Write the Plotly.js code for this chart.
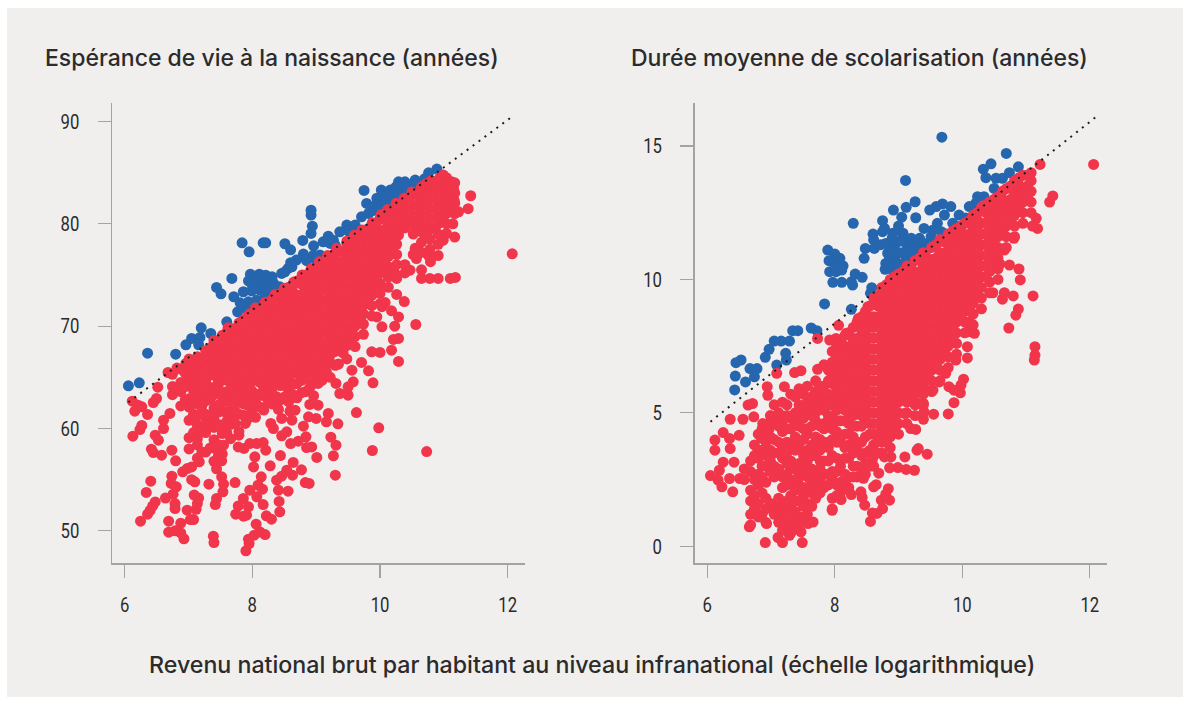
<!DOCTYPE html>
<html>
<head>
<meta charset="utf-8">
<script src="https://cdn.plot.ly/plotly-3.0.1.min.js"></script>
<style>html,body{margin:0;padding:0;background:#fff}</style>
</head>
<body>
<div id="chart" style="width:1190px;height:704px"></div>
<script>
const titleLeft = "Espérance de vie à la naissance (années)";
const titleRight = "Durée moyenne de scolarisation (années)";
const titleBottom = "Revenu national brut par habitant au niveau infranational (échelle logarithmique)";
const xTicks = [6, 8, 10, 12];
const leftYTicks = [50, 60, 70, 80, 90];
const rightYTicks = [0, 5, 10, 15];
const leftTrendX = [6.06, 12.08];
const leftTrendY = [62.57, 90.53];
const rightTrendX = [6.05, 12.12];
const rightTrendY = [4.67, 16.13];

const leftBlue = [[9.75,83.26],[10.89,85.34],[10.76,84.98],[8.92,81.33],[8.92,80.85],[8.94,79.77],[8.92,79.06],[7.84,78.14],[7.95,77.26],[8.17,78.14],[8.21,78.14],[8.51,78.05],[8.6,77.46],[8.79,78.37],[8.96,77.85],[7.68,74.66],[7.44,73.78],[7.51,73.16],[7.71,72.87],[7.6,70.42],[7.2,69.84],[7.35,69.28],[7.05,68.8],[7.18,68.9],[6.36,67.36],[6.8,67.26],[6.96,68.18],[7.16,68.18],[6.06,64.17],[6.23,64.46],
[7.97,75.08],[8.11,75.08],[8.21,74.98],[8.31,74.82],[7.94,74.43],[8.07,74.33],[8.2,74.23],[8.33,74.23],[8.46,75.15],[8.56,75.64],[8.51,75.31],[7.86,73.36],[7.99,73.45],[8.12,73.52],[8.25,73.45],[8.38,73.52],[7.81,72.28],[7.94,72.38],[8.07,72.54],[8.2,72.87],[7.77,71.4],[7.91,71.73],[8.62,75.8],[8.43,73.84],
[8.69,76.45],[8.81,76.78],[8.96,76.94],[8.8,77.04],[9.06,76.94],[9.11,78.24],[9.19,78.79],[9.22,78.08],[9.27,78.4],[9.37,79.22],[9.48,79.87],[9.61,79.87],[9.71,80.68],[9.82,81.01],[9.79,81.99],[9.95,81.99],[10.02,83.29],[10.16,83.29],[10.05,82.64],[10.21,82.31],[10.29,84.1],[10.39,84.1],[10.55,84.27],[10.42,83.62],[10.31,82.96],[10.16,81.66],[10,81.34],
[8.85,76.4],[9,76.5],[9.3,77.9],[9.5,79.3],[9.9,81.3],[10.1,82],[10.25,82.9],[10.4,83.3],[10.55,83.8],[10.7,84.4],[9.95,82.5],[10.1,82.8],[10.25,83.6],[8.6,76.2],[8.3,74.6],[8.1,73.9],[8,74],[8.3,73.8]];

const leftRed = [[7.62,69.84],[7.84,70.5],[7.96,71.2],[8.05,71.8],[8.2,72.3],[8.36,73.1],[8.5,73.7],[8.65,74.3],[8.78,75],[8.92,75.6],[9.05,76.3],[9.18,76.9],[9.32,77.6],[9.48,78.3],[9.6,78.9],[9.72,79.4],[9.88,80.1],[10.02,80.9],[10.12,81.4],[10.25,82],[10.38,82.5],[10.5,83.1],[10.65,83.6],[10.8,84.2],[10.95,84.6],[10.99,84.76],
[11.42,82.74],[11.38,81.47],[12.07,77.07],[11.12,84.1],[11.15,83.45],[11.16,82.3],[11.23,81.17],[11.14,80],[11.17,78.7],[10.99,78.4],[11.04,79.05],
[10.29,78.9],[10.55,77.6],[10.6,77.4],[10.57,76.6],[10.76,76.9],[10.91,76.9],[10.79,76.3],[10.65,75.5],[10.65,74.66],[10.78,74.66],[10.91,74.66],[11.1,74.66],[11.18,74.76],[10.47,75.47],[10.26,74.66],[10.21,75.5],[9.97,73.68],[9.79,73.36],[10.26,73.1],[10.38,72.4],[10.08,72.3],[10.03,71.9],[10.18,71.5],[10.29,70.9],[10.23,70],[10.56,70.16],[10.29,68.8],[10.21,68.7],[9.74,72.05],[10.03,69.93],[9.95,70.9],
[7.9,48.05],[7.95,48.76],[7.94,49.19],[8.03,49.58],[8.12,49.9],[8.2,49.64],[8.06,50.65],[7.4,48.86],[7.39,49.48],[6.93,49.22],[6.88,49.8],[6.88,50.75],[6.79,50],[6.69,49.87],[6.69,50.94],[7.08,51.1],[7.03,51.1],[6.25,50.94],[6.36,51.63],[6.4,52],[6.44,52.44],[6.48,52.83],[6.34,53.75],[6.41,54.85],[6.64,53.2],[6.79,52.67],[6.79,52.18],[6.98,52.02],[7.12,52.1],[7.14,52.67],[7.16,53.2],[7.09,53.5],[7.42,52.57],[7.44,53.16],[7.54,53.81],[7.55,54.56],[7.52,55.28],[7.32,54.56],[7.1,54.79],[7.05,55],[7.73,54.72],[7.44,56.06],[7.52,56.84],[6.74,55.34],[6.73,54.63],[6.81,54.3],[6.76,53.58],[6.91,55.77],[6.98,56.09],[7.05,56.25],[6.8,56.84],[7.17,56.74],[8.02,56.25],[8.28,56.35],[8.44,57.36],[8.64,56.68],[8.77,55.96],[8.63,55.44],[8.54,55.93],[8.46,55.34],[8.38,54.95],[8.14,55.28],[8.09,54.46],[8.16,54.07],[7.96,53.97],[8.41,53.97],[8.56,53.88],[8.83,54.72],[8.89,54.63],[8.42,52.87],[8.43,51.86],[7.86,53.16],[7.78,52.44],[7.94,52.35],[8.07,53.32],[8.17,52.57],[7.74,51.63],[7.86,51.43],[7.91,51.53],[8.22,51.47],[8.3,51.14],[9.3,55.44],[9.01,57.17],[9.27,57.33],[9.31,58.37],[9.23,59.15],[9.88,57.85],[10.73,57.75],[9.98,60.07],[9.34,60.46],[9.63,61.56],[8.93,58.2],[8.85,58.14],[8.84,59.19],[8.72,58.76],[8.6,58.53],[8.46,59.28],[8.04,57.23],[8.21,57.88],[8.17,58.63],[8.07,58.53],[7.96,58.53],[7.87,58.05],[7.78,58.2],[7.79,59.35],[7.89,60.49],[7.55,58.37],[7.47,57.39],[6.13,59.25],[6.24,59.9],[6.27,60.3],[6.36,61.37],[6.16,61.69],[6.27,62.12],[6.12,62.67],[6.21,62.28],[6.45,62.54],[6.5,62.93],[6.52,64.04],[6.48,59.35],[6.53,58.86],[6.42,57.98],[6.45,57.65],[6.58,57.39],[6.71,61.47],[6.61,60.81],[6.61,60],[6.74,57.88],[6.96,66.35],[6.68,65.47],[9.16,60.65],[9.03,62.28],[8.9,62.35],[9.19,61.47],[9,60.98],[8.88,61.14],[8.8,60.23],[8.67,61.79],[8.59,61.69],[8.41,61.86],[8.46,60.98],[8.62,60.81],[8.54,59.67],[8.29,60.49],[8.33,60],[9.31,64.4],[9.37,63.42],[9.5,63.26],[9.58,64.56],[9.5,64.07],[9.89,64.46],[9.82,65.64],[10.29,66.55],[10,67.43],[9.87,67.49],[10.18,67.65],[9.71,66.45],[9.56,65.7],[9.31,66.19]];

const leftDense = [
[6.75,[63.3,64.1,65.3]],
[6.88,[62.2,63.6,64.5,65.8]],
[7.01,[58,59.1,60.8,62.1,62.9,64.2,65,66.1,66.8]],
[7.14,[57.1,58.4,59,60.3,61.2,62.4,63,64.4,65.1,66.3,67]],
[7.27,[57.7,59.6,60.6,61.4,62.7,63.4,64.6,65.8,66.6,67.6]],
[7.4,[56.8,58.1,58.9,60.1,60.9,62,63.3,64,65.2,66,67,68,68.6]],
[7.53,[57.5,59.5,60.3,61.7,62.6,63.2,64.7,65.4,66.5,67.3,68.3,69.1]],
[7.66,[59,60.4,61.1,62.3,63.7,64.4,65.2,66.6,67.4,68.3,69.1,69.8]],
[7.79,[59.7,61.4,62.9,63.5,64.8,65.6,66.4,67.6,68.5,69.4,70.3]],
[7.92,[60.9,62.3,63.1,64.4,65.3,66.1,67.2,68.1,69.1,70,70.9]],
[8.05,[61.1,62.6,63.3,64.9,65.7,66.6,67.5,68.4,69.3,70.3,71.4]],
[8.18,[61.8,63.2,64,65,66.2,67,67.9,68.8,69.8,70.8,71.8]],
[8.31,[62.4,63.9,64.6,65.7,66.5,67.4,68.4,69.4,70.4,71.4,72.6]],
[8.44,[62.8,64.2,65.3,66.2,67,67.9,68.8,69.8,70.8,71.8,72.3,73.2]],
[8.57,[62.6,63.5,64.9,65.8,66.8,67.6,68.6,69.6,70.6,71.6,72.6,73.8]],
[8.7,[63,64.4,65.4,66.1,67.2,68,69,70,71,72,73,74.4]],
[8.83,[63.6,64.9,66,67,67.8,68.6,69.5,70.5,71.5,72.5,73.5,74.5,75]],
[8.96,[63.2,64.4,65.2,66.6,67.4,68.2,69.2,70.2,71.2,72.2,73.2,74.2,75.6]],
[9.09,[64.7,65.9,66.8,67.7,68.5,69.5,70.5,71.5,72.5,73.5,74.5,75.5,76.2]],
[9.22,[65,66.4,67.2,68,69,70,71,72,73,74,75,76,76.8]],
[9.35,[66.3,67.6,68.3,69.3,70.3,71.3,72.3,73.3,74.3,75.3,76.3,77.4]],
[9.48,[66.8,68.1,68.8,69.8,70.8,71.8,72.8,73.8,74.8,75.8,76.8,78]],
[9.61,[68,69,70,71,72,73,74,75,76,77,78,78.6]],
[9.74,[69.2,70.2,71.2,72.2,73.2,74.2,75.2,76.2,77.2,78.2,79.3]],
[9.87,[71,72,73,74,75,76,77,78,79,79.9]],
[10,[72.2,73.2,74.2,75.2,76.2,77.2,78.2,79.2,80.5]],
[10.13,[73.8,74.8,75.8,76.8,77.8,78.8,79.8,80.2,81.1]],
[10.26,[75,76,77,78,79.6,80.6,81.7]],
[10.39,[75.2,76,79.6,80.5,81.4,82.3]],
[10.52,[77,79,79.9,80.8,81.8,82.9]],
[10.65,[77.2,78.2,79.2,80.2,81.2,82.2,83.5]],
[10.78,[77.5,78.5,79.5,80.5,81.5,82.5,83.5,84]],
[10.91,[78,79,80,81,82,83,84,84.3]],
[11.04,[80,81,82,83,84,84.5]],
[11.17,[81,82,83,84]]];

const leftDenseExtra = [
[6.82,[63.9,65.9]],
[6.95,[62.8,64.1,65.4]],
[7.08,[59.6,61.4,62.5,63.7,64.7,65.7]],
[7.21,[57.7,59.7,61.6,62.2,63.6,64.5,65.5,66.7]],
[7.34,[58.1,60.3,61.2,62.9,64,65.4,66.1,67.1,67.9]],
[7.47,[58.4,60.4,61.6,62.3,63.9,64.6,65.9,66.9,67.8,68.6]],
[7.6,[59.6,60.7,61.5,62.9,63.6,64.8,65.8,66.9,67.8,68.6,69.4]],
[7.73,[60.5,61.7,62.4,63.1,64.1,65.6,66.2,67.1,68,68.7,69.7]],
[7.86,[61.3,62.4,63.9,64.4,65.5,66.5,67.3,68.2,69.1,70.2]],
[7.99,[61.8,62.5,63.7,64.6,65.2,66,66.8,67.5,68.5,69.5,70.6]],
[8.12,[62.1,63.4,64.5,65.5,66.5,67.1,68.1,69.1,70.1,71.1]],
[8.25,[62.7,63.5,64.4,65.3,66,66.8,67.5,68.5,69.5,70.5,71.5,72.2]],
[8.38,[63.1,64.6,65.4,66,67,68,69,70,71,72]],
[8.51,[63.1,64.2,65,65.6,66.2,67.2,68.2,69.2,70.2,71.2,72.2,73.1]],
[8.64,[63.3,64.3,65.4,66.3,67.3,68.3,69.3,70.3,71.3,72.3,73.3,74]],
[8.77,[63.5,64.7,65.6,66.4,67.1,68.1,69.1,70.1,71.1,72.1,73.1,74.1]],
[8.9,[64,65.1,66,67,68,69,70,71,72,73,74,75]],
[9.03,[64.4,65.5,66.4,67,68,69,70,71,72,73,74,75,75.8]],
[9.16,[65.5,66.5,67.5,68.5,69.5,70.5,71.5,72.5,73.5,74.5,75.5,76.5]],
[9.29,[66.2,67.5,68.5,69.5,70.5,71.5,72.5,73.5,74.5,75.5,76.5,77.1]],
[9.42,[67.4,68.4,69.4,70.4,71.4,72.4,73.4,74.4,75.4,76.4,77.3]],
[9.55,[68.4,69.4,70.4,71.4,72.4,73.4,74.4,75.4,76.4,77.4,78.2]],
[9.68,[70.6,71.6,72.6,73.6,74.6,75.6,76.6,77.6,78.6]],
[9.81,[72.5,73.5,74.5,75.5,76.5,77.5,78.5,79.5]],
[9.94,[73.8,74.8,75.8,76.8,77.8,78.8,79.8]],
[10.07,[75.4,76.4,77.4,78.4,79.4,80.4]],
[10.2,[77.4,78.4,79.4,80.4,81.3]],
[10.33,[80.1,81,81.9]],
[10.46,[80.2,81.2,82.2]],
[10.59,[79.8,80.8,81.8,82.8]],
[10.72,[79,80,81,82,83,83.9]],
[10.85,[79.5,80.5,81.5,82.5,83.5]],
[10.98,[80.6,81.6,82.6,83.6]],
[11.1,[81.5,82.5,83.5]]];

const rightBlue = [[9.68,15.33],[10.69,14.72],[9.11,13.71],[10.45,14.33],[10.33,14.13],[10.37,13.81],[10.88,14.22],[10.74,14],[10.53,13.79],[10.63,13.79],[10.5,13.41],[10.24,13.1],[10.34,13.1],[10.21,12.85],[10.11,12.73],[9.26,12.91],[9.82,12.73],[9.69,12.83],[9.59,12.73],[9.49,12.6],[9.12,12.7],[8.92,12.6],[9.05,12.33],[9.27,12.31],[9.72,12.41],[9.95,12.41],[9.61,12.1],[9.85,12.1],[9.4,11.91],[8.75,12.2],[8.78,11.91],[9,12],[8.29,12.1],[8.6,11.7],[8.75,11.79],[8.91,11.73],[9.07,11.73],[9.2,11.54],[9.33,11.54],[9.51,11.6],[9.67,11.79],[8.61,11.48],[8.62,11.16],[8.48,11.16],[8.46,10.79],[7.89,11.1],[7.91,10.7],[8.08,10.79],[8.13,10.51],[7.92,10.29],[8.02,10.29],[8.11,10.35],[7.97,9.89],[8.11,9.89],[8.26,9.91],[8.28,9.79],[8.32,10.2],[8.43,10.08],[8.58,9.69],[8.56,9.48],[7.84,9.08],[8.26,8.88],[7.63,8.18],[7.72,8.08],[7.34,8.08],[7.42,8.08],[7.05,7.69],[7.16,7.69],[7.29,7.69],
[8.8,11.35],[8.96,11.35],[9.12,11.35],[9.27,11.35],[9.4,11.35],[8.83,10.98],[8.99,10.98],[9.14,11.04],[9.3,11.1],[8.8,10.6],[8.96,10.66],[8.79,10.38],[8.91,10.35],[9.12,10.73],[9.54,11.85],
[9.5,11.2],[9.6,11.4],[9.75,11.7],[9.9,12],[10.05,12.3],[9.2,11],[9.05,11],[8.9,11.1],[9.05,11.5],[8.9,11.55],[9.2,11.3],[8.72,11.3],[8.86,10.75],[9,10.55],[8,10.6],[8,10.95],
[6.45,6.88],[6.53,6.98],[6.67,6.66],[6.78,6.66],[6.74,6.35],[6.44,6.38],[6.6,6.16],[6.43,5.86],[6.91,7.08],[6.97,7.38],[7.09,6.79],[7.24,6.98],[7.23,7.23]];

const rightRed = [[12.06,14.31],[11.22,14.31],[11.42,13.13],[11.37,12.9],[11.18,11.91],[11.1,12],[11.16,12.29],[11.11,9.38],[10.8,9.38],[10.63,9.26],[10.66,9.5],[10.88,8.89],[10.84,8.66],[10.73,8.18],[10.91,9.98],[10.89,10.39],[10.74,10.54],[10.59,10.58],[10.66,11.1],[10.81,11.54],[10.48,9.5],[10.11,8.41],[10.1,8.04],[10.11,8.1],[10.19,7.98],[8.06,8.28],[8.18,7.98],[8.37,8.54],[8.52,8.98],[8.61,8.48],[7.73,7.79],[8.02,7.79],[7.92,7.73],[8.44,7.88],
[11.14,7.48],[11.14,7.16],[11.13,6.98],[7.09,6.48],[7.37,6.51],[7.47,6.58],[7.73,6.63],[6.94,5.98],[6.95,5.66],[7.21,5.98],[6.64,5.29],[6.71,5.35],[6.36,4.76],[6.56,4.76],[6.73,4.85],[6.25,4.26],[6.12,3.98],[6.12,3.6],[6.36,3.66],[6.35,4.04],[6.5,4.16],[6.25,3.15],[6.42,3.15],[6.05,2.65],[6.19,2.85],[6.23,2.23],[6.17,2.48],[6.35,2.54],[6.51,2.54],[6.4,2.04],[6.66,0.73],[6.91,0.14],[7.18,0.14],[7.49,0.14],[7.11,0.33],[6.93,0.85],[7.29,0.41],[7.47,0.54],[7.66,0.91],[7.58,0.85],[7.96,1.35],[8.56,0.93],[8.59,1.25],[8.66,1.23],[8.75,1.41],[8.73,1.73],[8.86,1.73],[8.84,2.16],[8.8,1.95],[8.47,1.54],[8.41,2.04],[8.43,1.83],[8.26,1.94],[8.18,2.16],[8.1,1.75],[8.65,2.31],[8.61,2.23],[8.69,2.74],[8.45,2.55],[9.25,2.85],[9.12,2.88],[8.99,2.95],[8.86,2.94],[9.45,3.45],[9.29,3.6],[9.31,3.66],[9.1,3.35],[8.88,3.35],[8.78,3.35],[8.59,3.25],[9.19,4.41],[9.27,4.38],[9.39,4.76],[9.4,5.04],[9.55,4.95],[9.78,4.96],[9.87,5.38],[9.39,5.35],[9.97,5.75],[9.79,5.98],[9.87,5.85],[10.02,6.26],[9.98,6.04],[10.08,7.06],[9.9,6.98],[10.08,7.48],[8.83,4.1],[8.91,4.29],[8.73,4.48],[8.86,4.6],[9.09,4.98],[9.33,5.35],[9.54,5.85],[9.43,5.85],[9.74,6.48],[9.64,6.16],[6.87,4.6],[6.97,4.4],[7,4.7],[6.85,4.05]];

const rightDense = [
[6.58,[2.5,2.9]],
[6.68,[0.8,1.2,1.7,2.1,2.8,3.2]],
[6.8,[1.1,1.6,2.3,2.7,3.3,3.6,4.2]],
[6.92,[0.9,1.4,1.8,2.4,3,3.4,3.9,4.3]],
[7.05,[1.2,1.5,2.6,3,3.5,4,4.7,5.3]],
[7.18,[0.6,1.1,1.5,2.2,2.6,3.3,3.7,4.3,4.7,5.4]],
[7.31,[0.5,1,1.4,1.9,2.4,2.9,3.2,3.8,4.4,4.8,5.7]],
[7.44,[0.8,1.1,1.7,2.3,2.6,3.1,3.7,3.9,4.5,4.9,5.3,5.9]],
[7.57,[1.2,1.6,2.2,2.6,3.2,3.6,4.2,4.4,5,5.4,6]],
[7.7,[1.8,2.3,2.7,3.4,3.7,4.1,4.7,5,5.5,5.8,6.2]],
[7.83,[2.2,2.7,3.2,3.9,4.4,4.6,5.1,5.6,6,6.8]],
[7.96,[1.4,1.8,2.5,2.8,3.4,4,4.4,4.8,5.3,5.6,6.1,6.4,6.9,7.3]],
[8.09,[2,2.4,3,3.2,3.9,4.1,4.7,5.2,5.6,6,6.4,6.8,7.2,7.7]],
[8.22,[2.2,2.6,3.3,3.8,4.2,4.6,5,5.4,5.8,6.2,6.6,7,7.4,8]],
[8.35,[2.6,3,3.6,3.9,4.5,5,5.4,5.8,6.2,6.6,7,7.4,7.8,8.4]],
[8.48,[2.7,3.1,3.5,4.1,4.7,5.1,5.5,5.9,6.3,6.7,7.1,7.5,7.9,8.3,8.8]],
[8.61,[3,3.4,3.8,4.2,4.6,5,5.4,5.8,6.2,6.6,7,7.4,7.8,8.2,8.6,9.3]],
[8.74,[3.5,3.9,4.3,4.7,5.1,5.5,5.9,6.3,6.7,7.1,7.5,7.9,8.3,8.7,9.1,9.7]],
[8.87,[3.7,4.1,4.5,4.9,5.3,5.7,6.1,6.5,6.9,7.3,7.7,8.1,8.5,8.9,9.3,9.7,10]],
[9,[4.2,4.6,5,5.4,5.8,6.2,6.6,7,7.4,7.8,8.2,8.6,9,9.4,9.8,10.2]],
[9.13,[4.6,5,5.4,5.8,6.2,6.6,7,7.4,7.8,8.2,8.6,9,9.4,9.8,10.2,10.5]],
[9.26,[4.9,5.3,5.7,6.1,6.5,6.9,7.3,7.7,8.1,8.5,8.9,9.3,9.7,10.1,10.7]],
[9.39,[5.3,5.7,6.1,6.5,6.9,7.3,7.7,8.1,8.5,8.9,9.3,9.7,10.1,10.5,11]],
[9.52,[5.8,6.2,6.6,7,7.4,7.8,8.2,8.6,9,9.4,9.8,10.2,10.6,11.2]],
[9.65,[6.2,6.6,7,7.4,7.8,8.2,8.6,9,9.4,9.8,10.2,10.6,11,11.5]],
[9.78,[6.7,7.1,7.5,7.9,8.3,8.7,9.1,9.5,9.9,10.3,10.7,11.1,11.7]],
[9.91,[7.2,7.6,8,8.4,8.8,9.2,9.6,10,10.4,10.8,11.2,11.5,11.9]],
[10.04,[8,8.4,8.8,9.2,9.6,10,10.4,10.8,11.2,11.6,12.1]],
[10.17,[8.3,8.7,9.1,9.5,9.9,10.3,10.7,11.1,11.5,11.9,12.4]],
[10.3,[8.9,9.3,9.7,10.1,10.5,10.9,11.3,11.7,12.1,12.7]],
[10.43,[9.5,9.9,10.3,10.7,11.1,11.5,11.9,12.3,12.9]],
[10.56,[10,10.4,10.8,11.2,11.6,12,12.4,12.8,13.1]],
[10.69,[11.2,11.6,12,12.4,12.8,13.4]],
[10.82,[11.6,12,12.4,12.8,13.2,13.7]],
[10.95,[12.1,12.5,12.9,13.3,13.9]],
[11.08,[12.5,12.9,13.3,13.7,14]]];

const rightDenseExtra = [
[6.74,[1.4,1.9,2.5,3.4,3.8]],
[6.86,[1.2,2,2.6,3,3.6,4.4]],
[6.99,[1.6,2.8,3.2,3.6,4.1,4.9]],
[7.12,[0.9,1.3,1.8,2.9,3.5,3.9,4.5,5]],
[7.25,[0.8,1.2,1.7,2.3,2.7,3.1,3.5,3.9,4.4,4.9,5.3]],
[7.38,[0.7,1.3,1.7,2.1,2.5,2.9,3.6,4.1,4.6,5,5.6]],
[7.51,[1.1,1.5,1.9,2.2,2.8,3.1,3.4,4,4.4,4.8,5.2,5.7]],
[7.64,[1.5,2,2.5,2.9,3.4,3.8,4.5,4.9,5.3,5.6]],
[7.77,[2,2.5,2.9,3.2,3.6,4,4.5,5.2,5.5,5.9,6]],
[7.9,[2.3,2.7,3.2,3.7,3.9,4.5,4.9,5.3,5.7,6.2,6.6]],
[8.03,[1.9,2.3,2.8,3.3,3.9,4.3,4.7,5.1,5.5,5.9,6.3,6.7,7.1,7.5]],
[8.16,[2.4,2.7,3.3,3.7,4.2,4.7,5.1,5.5,5.9,6.3,6.7,7.1,7.5,7.9]],
[8.29,[2.6,3,3.5,4.1,4.5,4.9,5.3,5.7,6.1,6.5,6.9,7.3,7.7,8.2]],
[8.42,[2.9,3.4,3.9,4.5,4.9,5.3,5.7,6.1,6.5,6.9,7.3,7.7,8.1,8.6]],
[8.55,[3,3.6,4.2,4.6,5,5.4,5.8,6.2,6.6,7,7.4,7.8,8.2,8.6,9]],
[8.68,[3.5,4,4.2,4.6,5,5.4,5.8,6.2,6.6,7,7.4,7.8,8.2,8.6,9,9.4]],
[8.81,[3.9,4.4,5,5.4,5.8,6.2,6.6,7,7.4,7.8,8.2,8.6,9,9.4,9.8]],
[8.94,[4.4,4.8,5.1,5.5,5.9,6.3,6.7,7.1,7.5,7.9,8.3,8.7,9.1,9.5,9.9,10.1]],
[9.07,[5.5,5.9,6.3,6.7,7.1,7.5,7.9,8.3,8.7,9.1,9.5,9.9,10.3]],
[9.2,[5.6,6,6.4,6.8,7.2,7.6,8,8.4,8.8,9.2,9.6,10,10.4]],
[9.33,[5.9,6.3,6.7,7.1,7.5,7.9,8.3,8.7,9.1,9.5,9.9,10.3,10.8]],
[9.46,[6.4,6.8,7.2,7.6,8,8.4,8.8,9.2,9.6,10,10.4,10.8]],
[9.59,[6.8,7.2,7.6,8,8.4,8.8,9.2,9.6,10,10.4,10.8,11.3]],
[9.72,[7.3,7.7,8.1,8.5,8.9,9.3,9.7,10.1,10.5,10.9,11.4]],
[9.85,[7.8,8.2,8.6,9,9.4,9.8,10.2,10.6,11,11.4,11.8]],
[9.98,[8.6,9,9.4,9.8,10.2,10.6,11,11.4,11.8,12]],
[10.11,[8.9,9.3,9.7,10.1,10.5,10.9,11.3,11.7,12.2]],
[10.24,[9.4,9.8,10.2,10.6,11,11.4,11.8,12.2,12.5]],
[10.37,[10.1,10.5,10.9,11.3,11.7,12.1,12.5,12.8]],
[10.5,[10.6,11,11.4,11.8,12.2,12.6,13]],
[10.63,[11.8,12.2,12.6,13,13.3]],
[10.76,[12.2,12.6,13,13.5]],
[10.89,[12.7,13.1,13.5,13.8]],
[11.02,[13.1,13.5,13.9]]];

const blueColor = "#2566AF";
const redColor = "#F1354A";
const bg = "#F1EFEE";
const inkColor = "#2B2B2B";

const px = pairs => pairs.map(p => p[0]);
const py = pairs => pairs.map(p => p[1]);
const expand = cols => cols.flatMap(c => c[1].map(v => [c[0], v]));
const allLeftRed = leftRed.concat(expand(leftDense), expand(leftDenseExtra));
const allRightRed = rightRed.concat(expand(rightDense), expand(rightDenseExtra));

const marker = c => ({color: c, size: 11, line: {width: 0}});
const dotted = {color: "#1E1E1E", width: 2, dash: "2px,5.4px"};

const traces = [
  {x: px(leftBlue), y: py(leftBlue), xaxis: "x", yaxis: "y", mode: "markers", marker: marker(blueColor)},
  {x: px(allLeftRed), y: py(allLeftRed), xaxis: "x", yaxis: "y", mode: "markers", marker: marker(redColor)},
  {x: leftTrendX, y: leftTrendY, xaxis: "x", yaxis: "y", mode: "lines", line: dotted},
  {x: px(rightBlue), y: py(rightBlue), xaxis: "x2", yaxis: "y2", mode: "markers", marker: marker(blueColor)},
  {x: px(allRightRed), y: py(allRightRed), xaxis: "x2", yaxis: "y2", mode: "markers", marker: marker(redColor)},
  {x: rightTrendX, y: rightTrendY, xaxis: "x2", yaxis: "y2", mode: "lines", line: dotted}
];

const W = 1190, H = 704;
const tickFont = {family: "Roboto, sans-serif", size: 21, color: "#2B2B2B"};
const titleFont = {family: "Inter, sans-serif", size: 23, weight: 500, color: inkColor};
const bottomFont = {family: "Inter, sans-serif", size: 23.2, weight: 500, color: inkColor};
const axisBase = {
  showgrid: false, zeroline: false, showline: true, linecolor: "#A3A3A3", linewidth: 1.5,
  ticks: "outside", ticklen: 13, tickwidth: 1.2, tickcolor: "#A3A3A3", tickfont: tickFont
};
const xAxis = (dom, anchor) => Object.assign({}, axisBase, {
  domain: dom, anchor: anchor, range: [5.803, 12.27], tickmode: "array", tickvals: xTicks, ticktext: xTicks.map(String), ticklabelstandoff: 9
});
const yDom = [1 - 563.3 / H, 1 - 103 / H];
const layout = {
  width: W, height: H, autosize: false, showlegend: false,
  margin: {l: 0, r: 0, t: 0, b: 0, pad: 0},
  paper_bgcolor: "#FFFFFF", plot_bgcolor: "rgba(0,0,0,0)",
  xaxis: xAxis([112 / W, 525 / W], "y"),
  xaxis2: xAxis([694.7 / W, 1107 / W], "y2"),
  yaxis: Object.assign({}, axisBase, {domain: yDom, anchor: "x", range: [46.83, 91.8], tickmode: "array", tickvals: leftYTicks, ticktext: leftYTicks.map(String), ticklabelstandoff: 14}),
  yaxis2: Object.assign({}, axisBase, {domain: yDom, anchor: "x2", range: [-0.637, 16.61], tickmode: "array", tickvals: rightYTicks, ticktext: rightYTicks.map(String), ticklabelstandoff: 14}),
  shapes: [{type: "rect", xref: "paper", yref: "paper", x0: 7 / W, x1: 1183 / W, y0: 1 - 697 / H, y1: 1 - 8 / H, fillcolor: bg, line: {width: 0}, layer: "below"}],
  annotations: [
    {text: titleLeft, xref: "paper", yref: "paper", x: 43 / W, y: 1 - 58 / H, xanchor: "left", yanchor: "middle", showarrow: false, font: titleFont},
    {text: titleRight, xref: "paper", yref: "paper", x: 629 / W, y: 1 - 58 / H, xanchor: "left", yanchor: "middle", showarrow: false, font: titleFont},
    {text: titleBottom, xref: "paper", yref: "paper", x: 592 / W, y: 1 - 665 / H, xanchor: "center", yanchor: "middle", showarrow: false, font: bottomFont}
  ]
};
Plotly.newPlot("chart", traces, layout, {staticPlot: true, displayModeBar: false}).then(gd => {
  gd.querySelectorAll(".xaxislayer-above text, .yaxislayer-above text").forEach(t => {
    t.setAttribute("lengthAdjust", "spacingAndGlyphs");
    t.setAttribute("textLength", String(9.4 * t.textContent.length));
  });
});
</script>
</body>
</html>
